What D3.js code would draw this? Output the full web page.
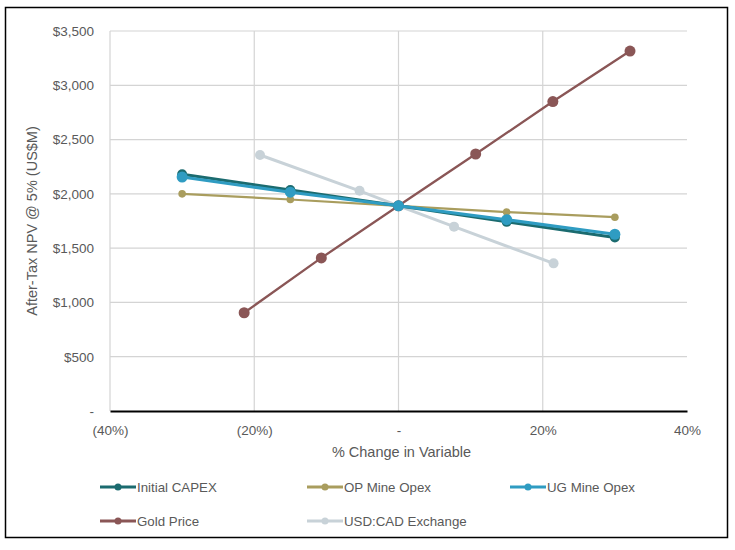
<!DOCTYPE html>
<html>
<head>
<meta charset="utf-8">
<script src="https://cdn.jsdelivr.net/npm/d3@7"></script>
<style>
  body { margin: 0; background: #fff; }
  text { font-family: "Liberation Sans", Arial, sans-serif; fill: #595959; }
</style>
</head>
<body>
<svg id="chart"></svg>
<script>
// % change in variable for each series, and the NPV (US$M) at each step
const seriesNames = ["Initial CAPEX", "OP Mine Opex", "UG Mine Opex", "Gold Price", "USD:CAD Exchange"];
const capexX = [-30, -15, 0, 15, 30];
const capexY = [2180, 2035, 1890, 1742, 1598];
const opMineX = [-30, -15, 0, 15, 30];
const opMineY = [2000, 1948, 1890, 1832, 1785];
const ugMineX = [-30, -15, 0, 15, 30];
const ugMineY = [2155, 2015, 1890, 1762, 1628];
const goldX = [-21.4, -10.7, 0, 10.7, 21.4, 32.1];
const goldY = [905, 1410, 1890, 2367, 2850, 3315];
const fxX = [-19.2, -5.4, 0, 7.7, 21.5];
const fxY = [2358, 2028, 1890, 1698, 1360];
const xTicks = [-40, -20, 0, 20, 40];
const yTicks = [0, 500, 1000, 1500, 2000, 2500, 3000, 3500];

const styles = {
  "Initial CAPEX":    { color: "#1b6b6f", width: 3,   r: 5 },
  "OP Mine Opex":     { color: "#a99d5e", width: 2.2, r: 3.8 },
  "UG Mine Opex":     { color: "#2f9cc2", width: 3,   r: 5.5 },
  "Gold Price":       { color: "#8a5656", width: 2.3, r: 5.5 },
  "USD:CAD Exchange": { color: "#c8d2d8", width: 3,   r: 5 }
};

const series = [
  { name: seriesNames[0], x: capexX, y: capexY },
  { name: seriesNames[1], x: opMineX, y: opMineY },
  { name: seriesNames[2], x: ugMineX, y: ugMineY },
  { name: seriesNames[3], x: goldX, y: goldY },
  { name: seriesNames[4], x: fxX, y: fxY }
];

const W = 735, H = 550;
const margin = { top: 31, left: 110, right: 48, bottom: 139 };
const width = W - margin.left - margin.right;
const height = H - margin.top - margin.bottom;

const svg = d3.select("#chart").attr("width", W).attr("height", H);

svg.append("rect")
  .attr("x", 5.5).attr("y", 7.5)
  .attr("width", 722).attr("height", 530)
  .attr("fill", "#fff").attr("stroke", "#000").attr("stroke-width", 1.5);

const g = svg.append("g").attr("transform", `translate(${margin.left},${margin.top})`);

const xScale = d3.scaleLinear().domain([-40, 40]).range([0, width]);
const yScale = d3.scaleLinear().domain([0, 3500]).range([height, 0]);

const fmtX = v => v === 0 ? "-" : (v < 0 ? `(${Math.abs(v)}%)` : `${v}%`);
const fmtY = v => v === 0 ? "-" : "$" + d3.format(",")(v);

// gridlines
g.append("g")
  .selectAll("line")
  .data(yTicks.filter(d => d > 0))
  .join("line")
  .attr("x1", 0).attr("x2", width)
  .attr("y1", d => yScale(d)).attr("y2", d => yScale(d))
  .attr("stroke", "#d4d4d4").attr("stroke-width", 1.2);

g.append("g")
  .selectAll("line")
  .data(xTicks.filter(d => d < 40))
  .join("line")
  .attr("x1", d => xScale(d)).attr("x2", d => xScale(d))
  .attr("y1", 0).attr("y2", height)
  .attr("stroke", "#d4d4d4").attr("stroke-width", 1.2);

// axes
const xAxis = g.append("g")
  .attr("transform", `translate(0,${height})`)
  .call(d3.axisBottom(xScale).tickValues(xTicks).tickFormat(fmtX).tickSize(0).tickPadding(14));
xAxis.select(".domain").attr("stroke", "#000").attr("stroke-width", 2);
xAxis.selectAll("text").style("font-size", "13.5px").attr("fill", "#595959");

const yAxis = g.append("g")
  .call(d3.axisLeft(yScale).tickValues(yTicks).tickFormat(fmtY).tickSize(0).tickPadding(16));
yAxis.select(".domain").remove();
yAxis.selectAll("text").style("font-size", "13.5px").attr("fill", "#595959");

svg.append("text")
  .attr("x", margin.left + width / 2 + 3).attr("y", 457)
  .attr("text-anchor", "middle").style("font-size", "14.5px")
  .text("% Change in Variable");

svg.append("text")
  .attr("transform", `translate(37,${margin.top + height / 2 + 0}) rotate(-90)`)
  .attr("text-anchor", "middle").style("font-size", "14.5px")
  .text("After-Tax NPV @ 5% (US$M)");

// lines and markers
const line = d3.line().x(d => xScale(d[0])).y(d => yScale(d[1]));
const drawOrder = [4, 3, 1, 0, 2];

drawOrder.forEach(i => {
  const s = series[i];
  const st = styles[s.name];
  const pts = s.x.map((v, k) => [v, s.y[k]]);
  const grp = g.append("g").attr("class", "series");
  grp.append("path")
    .datum(pts)
    .attr("fill", "none")
    .attr("stroke", st.color)
    .attr("stroke-width", st.width)
    .attr("d", line);
  grp.selectAll("circle")
    .data(pts)
    .join("circle")
    .attr("cx", d => xScale(d[0]))
    .attr("cy", d => yScale(d[1]))
    .attr("r", st.r)
    .attr("fill", st.color);
});

// legend
const legendPos = [[100, 487], [307, 487], [510, 487], [100, 521], [307, 521]];
const legend = svg.append("g");
series.forEach((s, i) => {
  const st = styles[s.name];
  const item = legend.append("g").attr("transform", `translate(${legendPos[i][0]},${legendPos[i][1]})`);
  item.append("line")
    .attr("x1", 0).attr("x2", 36).attr("y1", 0).attr("y2", 0)
    .attr("stroke", st.color).attr("stroke-width", 3);
  item.append("circle")
    .attr("cx", 18).attr("cy", 0).attr("r", 3.5).attr("fill", st.color);
  item.append("text")
    .attr("x", 37).attr("y", 0).attr("dy", "0.35em")
    .style("font-size", "13.3px")
    .text(s.name);
});
</script>
</body>
</html>
